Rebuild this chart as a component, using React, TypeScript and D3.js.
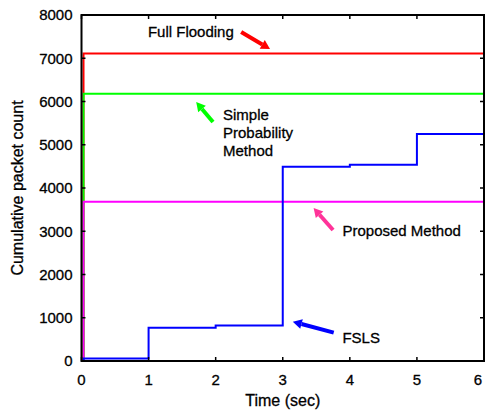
import React, { useEffect, useRef } from 'react';
import * as d3 from 'd3';

// step series: value holds from time t until the next time
const stepTimes = [0, 0.03, 1, 2, 3, 4, 5, 6];
const fullFlooding = [0, 7110, 7110, 7110, 7110, 7110, 7110, 7110];
const simpleProb = [0, 6180, 6180, 6180, 6180, 6180, 6180, 6180];
const proposed = [0, 3680, 3680, 3680, 3680, 3680, 3680, 3680];
const fsls = [0, 60, 770, 820, 4490, 4540, 5250, 5250];

const xTicks = [0, 1, 2, 3, 4, 5, 6];
const yTicks = [0, 1000, 2000, 3000, 4000, 5000, 6000, 7000, 8000];

const series = [
  { name: 'Full Flooding', values: fullFlooding, color: '#ff0000' },
  { name: 'Simple Probability Method', values: simpleProb, color: '#00ff00' },
  { name: 'Proposed Method', values: proposed, color: '#ff00ff' },
  { name: 'FSLS', values: fsls, color: '#0000ff' },
];

// annotation labels (data units) and arrows (tail -> tip, data units)
const labels = [
  { lines: ['Full Flooding'], x: 0.99, y: 7491 },
  { lines: ['Simple', 'Probability', 'Method'], x: 2.11, y: 5572 },
  { lines: ['Proposed Method'], x: 3.89, y: 2890 },
  { lines: ['FSLS'], x: 3.89, y: 416 },
];
const arrows = [
  { from: [2.38, 7607], to: [2.81, 7214], color: '#ff0000' },
  { from: [1.96, 5526], to: [1.71, 5988], color: '#00ff00' },
  { from: [3.75, 3029], to: [3.46, 3538], color: '#ff3399' },
  { from: [3.76, 655], to: [3.15, 909], color: '#0000ff' },
];

const App = () => {
  const svgRef = useRef<SVGSVGElement>(null);

  useEffect(() => {
    const width = 485;
    const height = 414;
    const margin = { top: 15, right: 1, bottom: 53, left: 81.5 };
    const font = '"Liberation Sans", Arial, sans-serif';

    const svg = d3.select(svgRef.current);
    svg.selectAll('*').remove();

    const x = d3.scaleLinear().domain([0, 6]).range([margin.left, width - margin.right]);
    const y = d3.scaleLinear().domain([0, 8000]).range([height - margin.bottom, margin.top]);

    const line = d3.line<number>()
      .x((_, i) => x(stepTimes[i]))
      .y(d => y(d))
      .curve(d3.curveStepAfter);

    series.forEach(s => {
      svg.append('path')
        .datum(s.values)
        .attr('d', line)
        .attr('fill', 'none')
        .attr('stroke', s.color)
        .attr('stroke-width', 2);
    });

    // frame with inward ticks on all sides
    const g = svg.append('g').attr('font-family', font).attr('font-size', 15)
      .attr('stroke', '#000').attr('stroke-width', 0.3);
    g.append('rect')
      .attr('x', x(0)).attr('y', y(8000))
      .attr('width', x(6) - x(0)).attr('height', y(0) - y(8000))
      .attr('fill', 'none').attr('stroke', '#000').attr('stroke-width', 2);

    const tl = 4;
    xTicks.forEach(t => {
      g.append('line').attr('x1', x(t)).attr('x2', x(t))
        .attr('y1', y(0)).attr('y2', y(0) - tl).attr('stroke', '#000').attr('stroke-width', 1.5);
      g.append('line').attr('x1', x(t)).attr('x2', x(t))
        .attr('y1', y(8000)).attr('y2', y(8000) + tl).attr('stroke', '#000').attr('stroke-width', 1.5);
      g.append('text').attr('x', Math.min(x(t), 478)).attr('y', y(0) + 24)
        .attr('text-anchor', 'middle').text(t);
    });
    yTicks.forEach(t => {
      g.append('line').attr('x1', x(0)).attr('x2', x(0) + tl)
        .attr('y1', y(t)).attr('y2', y(t)).attr('stroke', '#000').attr('stroke-width', 1.5);
      g.append('line').attr('x1', x(6)).attr('x2', x(6) - tl)
        .attr('y1', y(t)).attr('y2', y(t)).attr('stroke', '#000').attr('stroke-width', 1.5);
      g.append('text').attr('x', x(0) - 9).attr('y', y(t))
        .attr('dy', '0.36em').attr('text-anchor', 'end').text(t);
    });

    g.append('text')
      .attr('x', (x(0) + x(6)) / 2).attr('y', 406)
      .attr('text-anchor', 'middle').attr('font-size', 16)
      .text('Time (sec)');
    g.append('text')
      .attr('transform', `translate(23,${(y(0) + y(8000)) / 2}) rotate(-90)`)
      .attr('text-anchor', 'middle').attr('font-size', 16)
      .text('Cumulative packet count');

    // annotations
    labels.forEach(l => {
      const t = g.append('text').attr('x', x(l.x)).attr('y', y(l.y));
      l.lines.forEach((ln, i) => {
        t.append('tspan').attr('x', x(l.x)).attr('dy', i === 0 ? 0 : 18).text(ln);
      });
    });

    arrows.forEach(a => {
      const x1 = x(a.from[0]), y1 = y(a.from[1]);
      const x2 = x(a.to[0]), y2 = y(a.to[1]);
      const ang = Math.atan2(y2 - y1, x2 - x1);
      const hl = 9, hw = 5;
      const bx = x2 - hl * Math.cos(ang), by = y2 - hl * Math.sin(ang);
      g.append('line').attr('x1', x1).attr('y1', y1).attr('x2', bx).attr('y2', by)
        .attr('stroke', a.color).attr('stroke-width', 4);
      const px = -Math.sin(ang) * hw, py = Math.cos(ang) * hw;
      g.append('path')
        .attr('d', `M${x2},${y2}L${bx + px},${by + py}L${bx - px},${by - py}Z`)
        .attr('fill', a.color).attr('stroke', 'none');
    });
  }, []);

  return (
    <svg ref={svgRef} width={485} height={414}
      style={{ position: 'absolute', left: 0, top: 0, background: '#fff' }} />
  );
};

export default App;
